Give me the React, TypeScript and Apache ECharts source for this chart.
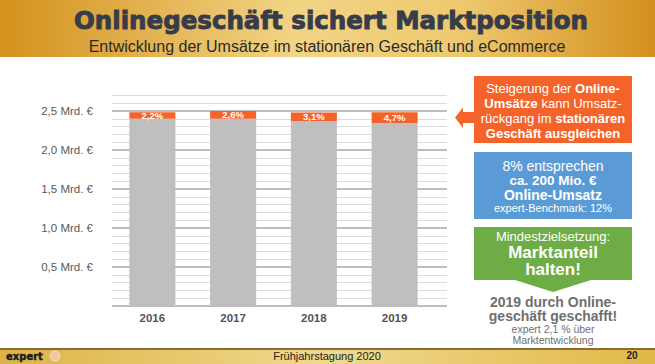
import React, { useEffect, useRef } from "react";
import * as echarts from "echarts";

const years = ["2016", "2017", "2018", "2019"];
const stationary = [2.4, 2.4, 2.37, 2.345];
const online = [0.085, 0.1, 0.11, 0.14];
const onlineShare = ["2,2%", "2,6%", "3,1%", "4,7%"];
const yTickUnit = " Mrd. €";

const FONT = "Liberation Sans, Arial, sans-serif";

function txt(text: string, x: number, y: number, font: string, fill: string, extra: any = {}) {
  return {
    type: "text",
    style: { text, x, y, textAlign: "center", textVerticalAlign: "middle", font, fill, ...extra },
  };
}

export default function App() {
  const ref = useRef<HTMLDivElement>(null);
  useEffect(() => {
    document.body.style.margin = "0";
    const chart = echarts.init(ref.current!, null, { renderer: "svg" });
    const L = 112;
    const bottom = 364 - 306;
    const option: any = {
      animation: false,
      backgroundColor: "#ffffff",
      textStyle: { fontFamily: FONT },
      grid: [
        { left: L, right: 655 - 447, top: 111, bottom },
        { left: L, right: 655 - 447, top: 306 - 2.7 * 78, bottom },
        { left: L, right: 655 - 435, top: 306 - 2.7 * 78, bottom },
      ],
      xAxis: [
        { type: "value", gridIndex: 0, show: false },
        { type: "value", gridIndex: 1, show: false },
        {
          type: "category",
          gridIndex: 2,
          data: years,
          axisLine: { show: false },
          axisTick: { show: false },
          axisLabel: { color: "#555555", fontWeight: "bold", fontSize: 11.5, margin: 6, fontFamily: FONT },
        },
      ],
      yAxis: [
        {
          type: "value",
          gridIndex: 0,
          min: 0,
          max: 2.5,
          interval: 0.5,
          z: 1,
          axisLine: { show: false },
          axisTick: { show: false },
          splitLine: { show: true, lineStyle: { color: "#bdbdbd", width: 2 } },
          axisLabel: {
            color: "#595959",
            fontSize: 11.5,
            margin: 19,
            fontFamily: FONT,
            formatter: (v: number) => (v === 0 ? "" : v.toFixed(1).replace(".", ",") + yTickUnit),
          },
        },
        {
          type: "value",
          gridIndex: 1,
          min: 0,
          max: 2.7,
          interval: 0.1,
          z: 0,
          axisLine: { show: false },
          axisTick: { show: false },
          axisLabel: { show: false },
          splitLine: { show: true, lineStyle: { color: "#dcdcdc", width: 1 } },
        },
        { type: "value", gridIndex: 2, min: 0, max: 2.7, show: false },
      ],
      series: [
        {
          type: "bar",
          xAxisIndex: 2,
          yAxisIndex: 2,
          stack: "t",
          data: stationary,
          barWidth: 46,
          itemStyle: { color: "#bfbfbf" },
          z: 3,
        },
        {
          type: "bar",
          xAxisIndex: 2,
          yAxisIndex: 2,
          stack: "t",
          data: online,
          barWidth: 46,
          itemStyle: { color: "#f4632a" },
          z: 3,
          label: {
            show: true,
            position: "inside",
            color: "#ffffff",
            fontWeight: "bold",
            fontSize: 9.5,
            fontFamily: FONT,
            formatter: (p: any) => onlineShare[p.dataIndex],
          },
        },
      ],
      graphic: [
        {
          type: "rect",
          z: -10,
          shape: { x: 0, y: 0, width: 655, height: 57 },
          style: {
            fill: new echarts.graphic.LinearGradient(0, 0, 1, 0, [
              { offset: 0, color: "#d4911c" },
              { offset: 0.45, color: "#f2d485" },
              { offset: 0.7, color: "#eec970" },
              { offset: 1, color: "#d38f1d" },
            ]),
          },
        },
        {
          type: "rect",
          z: -10,
          shape: { x: 0, y: 349, width: 655, height: 15 },
          style: {
            fill: new echarts.graphic.LinearGradient(0, 0, 1, 0, [
              { offset: 0, color: "#dcb445" },
              { offset: 0.5, color: "#f0d98e" },
              { offset: 1, color: "#e1b847" },
            ]),
          },
        },
        {
          type: "rect",
          shape: { x: 0, y: 348, width: 655, height: 2 },
          style: { fill: "#8c6c32" },
        },
        txt("Onlinegeschäft sichert Marktposition", 331, 20, "bold 24.5px DejaVu Sans, sans-serif", "#383c48", {
          stroke: "#383c48",
          lineWidth: 0.9,
        }),
        txt("Entwicklung der Umsätze im stationären Geschäft und eCommerce", 327, 46, "16px " + FONT, "#2a2a2a"),
        // orange box
        {
          type: "polygon",
          shape: {
            points: [
              [455, 117.5],
              [463, 107.5],
              [463, 112],
              [475, 112],
              [475, 123],
              [463, 123],
              [463, 128],
            ],
          },
          style: { fill: "#f4632a" },
        },
        {
          type: "rect",
          shape: { x: 474, y: 76, width: 158, height: 67 },
          style: { fill: "#f4632a" },
        },
        {
          type: "text",
          style: {
            text: "Steigerung der {b|Online-}\n{b|Umsätze} kann Umsatz-\nrückgang im {b|stationären}\n{b|Geschäft ausgleichen}",
            x: 553,
            y: 110.5,
            textAlign: "center",
            textVerticalAlign: "middle",
            font: "13px " + FONT,
            fill: "#ffffff",
            lineHeight: 15,
            rich: {
              b: { fontWeight: "bold", fontSize: 13, fill: "#ffffff", lineHeight: 15, fontFamily: FONT },
            },
          },
        },
        // blue box
        {
          type: "rect",
          shape: { x: 474, y: 152, width: 158, height: 67 },
          style: { fill: "#5b9bd5" },
        },
        txt("8% entsprechen", 553, 166, "14px " + FONT, "#ffffff"),
        txt("ca. 200 Mio. €", 553, 180.2, "bold 13.5px " + FONT, "#ffffff"),
        txt("Online-Umsatz", 553, 194.5, "bold 14px " + FONT, "#ffffff"),
        txt("expert-Benchmark: 12%", 553, 208, "11px " + FONT, "#ffffff"),
        // green box
        {
          type: "rect",
          shape: { x: 474, y: 227, width: 158, height: 53 },
          style: { fill: "#6ead45" },
        },
        {
          type: "polygon",
          shape: { points: [[515, 280], [591, 280], [553, 292]] },
          style: { fill: "#6ead45" },
        },
        txt("Mindestzielsetzung:", 553, 236.5, "13px " + FONT, "#ffffff"),
        txt("Marktanteil", 553, 252.3, "bold 17px " + FONT, "#ffffff"),
        txt("halten!", 553, 269.5, "bold 17px " + FONT, "#ffffff"),
        txt("2019 durch Online-", 553, 301.5, "bold 14px " + FONT, "#6f6f6f"),
        txt("geschäft geschafft!", 553, 316, "bold 14px " + FONT, "#6f6f6f"),
        txt("expert 2,1 % über", 553, 328.5, "10.5px " + FONT, "#6f6f6f"),
        txt("Marktentwicklung", 553, 339.5, "10.5px " + FONT, "#6f6f6f"),
        // footer
        {
          type: "text",
          style: {
            text: "expert",
            x: 6,
            y: 356.5,
            textVerticalAlign: "middle",
            font: "bold 10px DejaVu Sans, sans-serif",
            fill: "#1a1a1a",
            stroke: "#1a1a1a",
            lineWidth: 0.4,
          },
        },
        {
          type: "circle",
          shape: { cx: 55, cy: 356, r: 5 },
          style: { fill: "#f3c7a0", stroke: "#f6ddc0", lineWidth: 1 },
        },
        txt("Frühjahrstagung 2020", 327, 356, "11px " + FONT, "#222222"),
        txt("20", 632, 355.5, "bold 10px " + FONT, "#222222"),
      ],
    };
    chart.setOption(option);
    return () => chart.dispose();
  }, []);
  return <div ref={ref} style={{ width: 655, height: 364 }} />;
}
